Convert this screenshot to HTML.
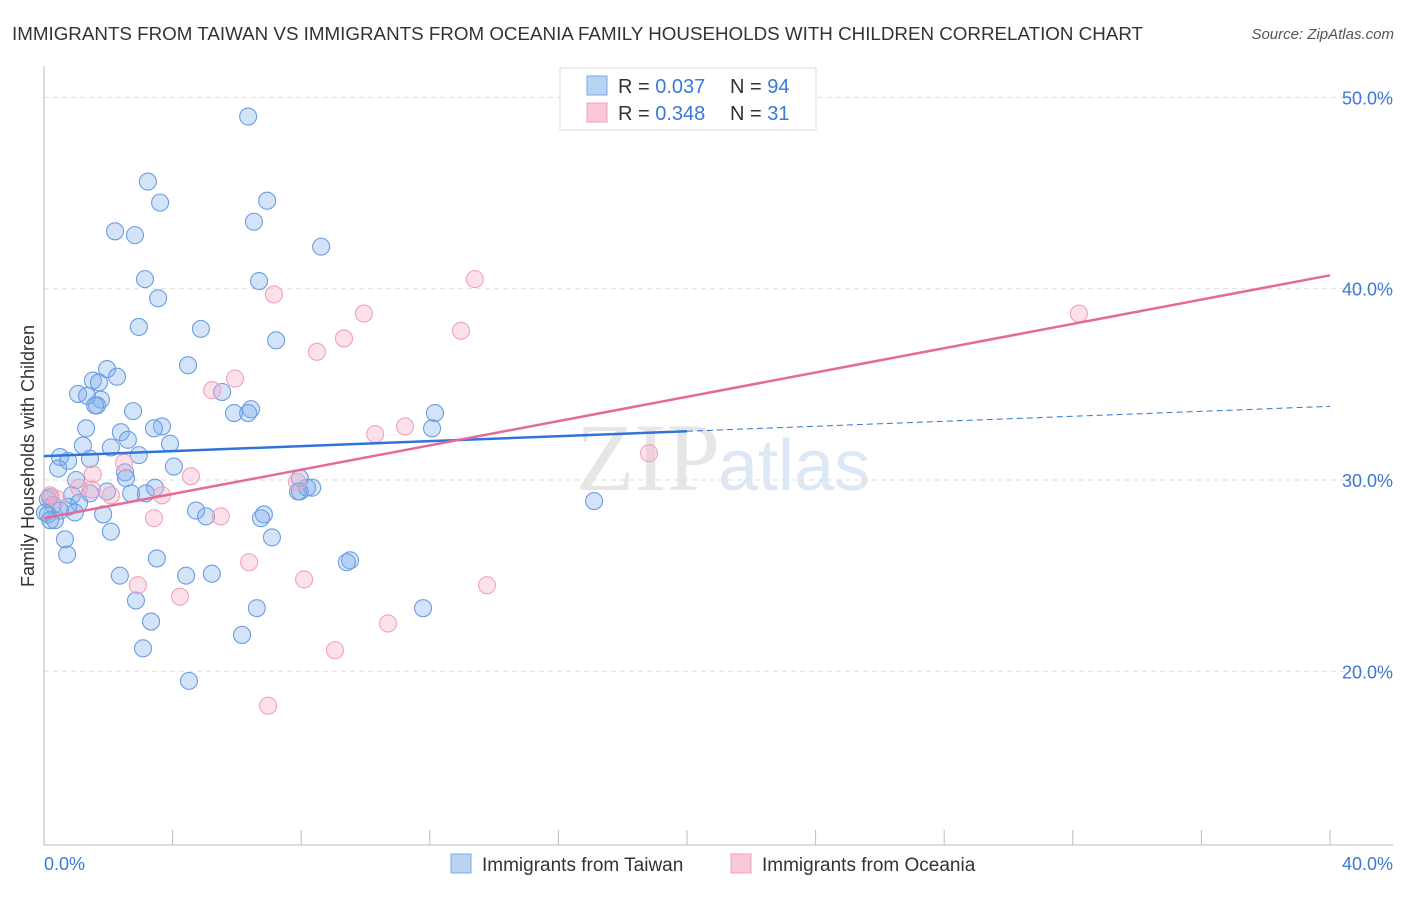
<!DOCTYPE html>
<html><head><meta charset="utf-8"><style>
body{margin:0;background:#fff;font-family:"Liberation Sans",sans-serif;}
</style></head><body>
<svg width="1406" height="892" xmlns="http://www.w3.org/2000/svg" font-family="Liberation Sans, sans-serif">
<text x="12" y="40" font-size="18" fill="#333" textLength="1131" lengthAdjust="spacingAndGlyphs">IMMIGRANTS FROM TAIWAN VS IMMIGRANTS FROM OCEANIA FAMILY HOUSEHOLDS WITH CHILDREN CORRELATION CHART</text>
<text x="1394" y="39" font-size="15" fill="#555" font-style="italic" text-anchor="end">Source: ZipAtlas.com</text>
<text x="720" y="490" font-size="96" fill="#e6e6e6" text-anchor="end" font-family="Liberation Serif, serif">ZIP</text>
<text x="718" y="490" font-size="72" fill="#dce8f5">atlas</text>
<g id="grid"></g>
<g id="axes"></g>
<g id="pts"></g>
<g id="lines"></g>
<text transform="translate(34,456) rotate(-90)" font-size="18" fill="#333" text-anchor="middle">Family Households with Children</text>
<text x="44" y="870" font-size="18" fill="#3b78d8">0.0%</text>
<text x="1393" y="870" font-size="18" fill="#3b78d8" text-anchor="end">40.0%</text>
<g>
<rect x="560" y="68" width="256" height="62" fill="#fff" stroke="#ddd"/>
<rect x="587" y="76" width="20" height="19" fill="#b9d3f3" stroke="#7aa7e6"/>
<rect x="587" y="103" width="20" height="19" fill="#fac8d6" stroke="#f0a0b8"/>
<text x="618" y="93" font-size="20" fill="#333">R = <tspan fill="#3b78d8">0.037</tspan></text>
<text x="730" y="93" font-size="20" fill="#333">N = <tspan fill="#3b78d8">94</tspan></text>
<text x="618" y="120" font-size="20" fill="#333">R = <tspan fill="#3b78d8">0.348</tspan></text>
<text x="730" y="120" font-size="20" fill="#333">N = <tspan fill="#3b78d8"> 31</tspan></text>
</g>
<g>
<rect x="451" y="854" width="20" height="19" fill="#b9d3f3" stroke="#7aa7e6"/>
<text x="482" y="871" font-size="19" fill="#333">Immigrants from Taiwan</text>
<rect x="731" y="854" width="20" height="19" fill="#fac8d6" stroke="#f0a0b8"/>
<text x="762" y="871" font-size="19" fill="#333">Immigrants from Oceania</text>
</g>
</svg>
<script>
const yTicks=[20,30,40,50];
const yTickLabels=["20.0%","30.0%","40.0%","50.0%"];
const xTicks=[0,4,8,12,16,20,24,28,32,36,40];
const taiwanX=[6.35,3.23,3.61,6.94,6.53,2.21,2.83,8.62,3.14,6.69,3.55,2.95,4.88,7.22,4.48,1.96,2.27,1.52,1.71,1.06,1.34,5.54,1.77,1.65,1.59,2.77,6.44,5.91,6.35,12.16,1.31,3.67,3.42,2.39,12.07,2.61,3.92,1.21,2.08,2.95,0.50,1.43,0.75,0.44,4.04,2.52,2.55,1.00,7.96,7.96,8.34,7.90,8.18,1.96,3.45,1.43,0.87,2.71,3.17,0.19,0.28,1.09,0.75,0.96,0.50,0.12,0.34,1.84,4.73,5.04,6.84,6.75,17.11,2.08,7.09,0.65,0.72,3.51,9.52,9.42,2.36,4.42,5.22,2.86,6.62,11.79,3.33,6.16,3.08,4.51,0.12,0.03,0.19];
const taiwanY=[49.0,45.6,44.5,44.6,43.5,43.0,42.8,42.2,40.5,40.4,39.5,38.0,37.9,37.3,36.0,35.8,35.4,35.2,35.1,34.5,34.4,34.6,34.2,33.9,33.9,33.6,33.7,33.5,33.5,33.5,32.7,32.8,32.7,32.5,32.7,32.1,31.9,31.8,31.7,31.3,31.2,31.1,31.0,30.6,30.7,30.4,30.1,30.0,30.1,29.4,29.6,29.4,29.6,29.4,29.6,29.3,29.2,29.3,29.3,29.1,28.7,28.8,28.6,28.3,28.4,28.2,27.9,28.2,28.4,28.1,28.2,28.0,28.9,27.3,27.0,26.9,26.1,25.9,25.8,25.7,25.0,25.0,25.1,23.7,23.3,23.3,22.6,21.9,21.2,19.5,29.0,28.3,27.9];
const oceaniaX=[13.40,7.15,9.95,12.97,9.33,8.49,32.19,5.94,5.23,11.23,10.30,18.82,2.49,4.57,1.52,7.87,1.09,1.49,2.08,3.67,0.19,0.40,3.42,5.50,6.38,8.09,2.92,13.78,4.23,10.70,9.05,6.97];
const oceaniaY=[40.5,39.7,38.7,37.8,37.4,36.7,38.7,35.3,34.7,32.8,32.4,31.4,30.9,30.2,30.3,29.9,29.6,29.5,29.2,29.2,29.2,29.0,28.0,28.1,25.7,24.8,24.5,24.5,23.9,22.5,21.1,18.2];
const taiwanTrend=[31.25,32.55,33.85]; // at x=0, 20, 40
const oceaniaTrend=[28.0,40.7]; // at x=0, 40
const NS="http://www.w3.org/2000/svg";
const xs=v=>44+v*32.15;
const ys=v=>480-(v-30)*19.13;
function mk(tag,attrs,parent){const e=document.createElementNS(NS,tag);for(const k in attrs)e.setAttribute(k,attrs[k]);document.getElementById(parent).appendChild(e);return e;}
yTicks.forEach((t,i)=>{
 const l=mk('line',{x1:44,x2:1393,y1:ys(t),y2:ys(t),stroke:'#ddd','stroke-dasharray':'5,4'},'grid');
 
 
 const tx=mk('text',{x:1393,y:ys(t)+7,'font-size':18,fill:'#3b78d8','text-anchor':'end'},'grid');
 tx.textContent=yTickLabels[i];
 
 
});
let a=mk('line',{x1:44,x2:44,y1:66,y2:845,stroke:'#bbb'},'axes');


a=mk('line',{x1:44,x2:1393,y1:845,y2:845,stroke:'#bbb'},'axes');


xTicks.forEach(t=>{
 const l=mk('line',{x1:xs(t),x2:xs(t),y1:830,y2:845,stroke:'#bbb'},'axes');
 
 
});
taiwanX.forEach((x,i)=>{
 const c=mk('circle',{cx:xs(x),cy:ys(taiwanY[i]),r:8.5,fill:'rgba(130,175,235,0.35)',stroke:'#6c9de2','stroke-width':1.1},'pts');
 
 
});
oceaniaX.forEach((x,i)=>{
 const c=mk('circle',{cx:xs(x),cy:ys(oceaniaY[i]),r:8.5,fill:'rgba(248,170,195,0.35)',stroke:'#f0a3ba','stroke-width':1.1},'pts');
 
 
});
let t=mk('line',{x1:xs(0),y1:ys(taiwanTrend[0]),x2:xs(20),y2:ys(taiwanTrend[1]),stroke:'#2f74d8','stroke-width':2.5},'lines');


t=mk('line',{x1:xs(20),y1:ys(taiwanTrend[1]),x2:xs(40),y2:ys(taiwanTrend[2]),stroke:'#2f74d8','stroke-width':1,'stroke-dasharray':'6,4'},'lines');


t=mk('line',{x1:xs(0),y1:ys(oceaniaTrend[0]),x2:xs(40),y2:ys(oceaniaTrend[1]),stroke:'#e46b97','stroke-width':2.5},'lines');


</script>
</body></html>
